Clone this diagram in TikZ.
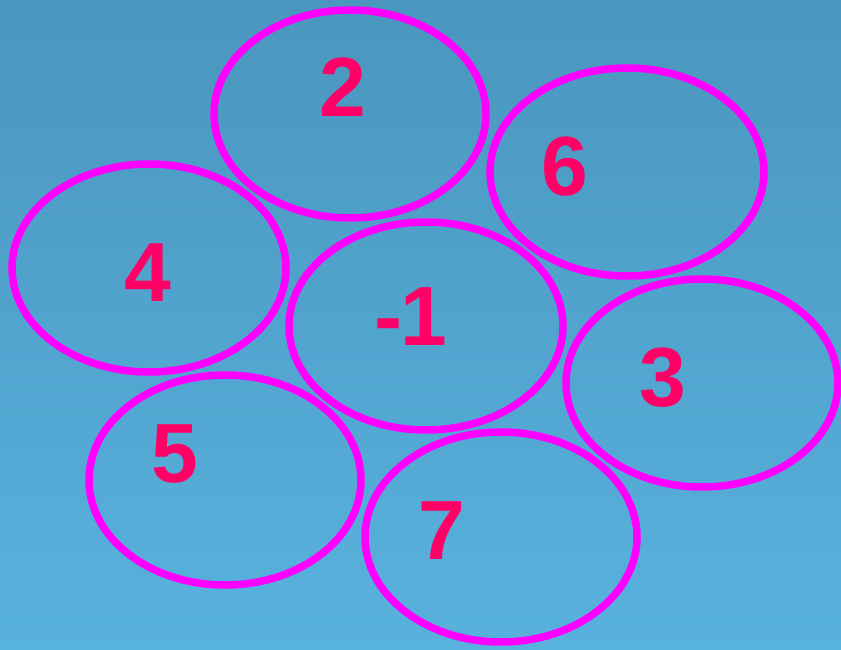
\documentclass[tikz,border=0pt]{standalone}
\usepackage{fontspec}
\setmainfont{Liberation Sans}
\definecolor{bgtop}{HTML}{4A96BE}
\definecolor{bgbot}{HTML}{58B2DE}
\definecolor{ring}{HTML}{FF00FF}
\definecolor{numcol}{HTML}{FF0066}
\begin{document}
\begin{tikzpicture}[x=1pt,y=1pt,
  ringstyle/.style={draw=ring,line width=7.5pt},
  num/.style={text=numcol,font=\fontsize{84}{84}\selectfont\bfseries,inner sep=0pt,anchor=center}]
\shade[top color=bgtop,bottom color=bgbot] (0,0) rectangle (841,649);
\useasboundingbox (0,0) rectangle (841,649);
\draw[ringstyle] (350,535) ellipse (136 and 104);
\draw[ringstyle] (627,477) ellipse (137 and 104);
\draw[ringstyle] (149,381) ellipse (137 and 104);
\draw[ringstyle] (426,323) ellipse (137 and 104);
\draw[ringstyle] (702,266) ellipse (136 and 104);
\draw[ringstyle] (225,169) ellipse (136 and 105);
\draw[ringstyle] (501,112) ellipse (136 and 105);
\node[num] (n2) at (343,562) {2};
\node[num] (n6) at (565,482) {6};
\node[num] (n4) at (148,376) {4};
\node[num] (nm1) at (411,332) {-\kern-2pt1};
\node[num] (n3) at (663,271) {3};
\node[num] (n5) at (175,195) {5};
\node[num] (n7) at (442,118) {7};
\end{tikzpicture}
\end{document}
